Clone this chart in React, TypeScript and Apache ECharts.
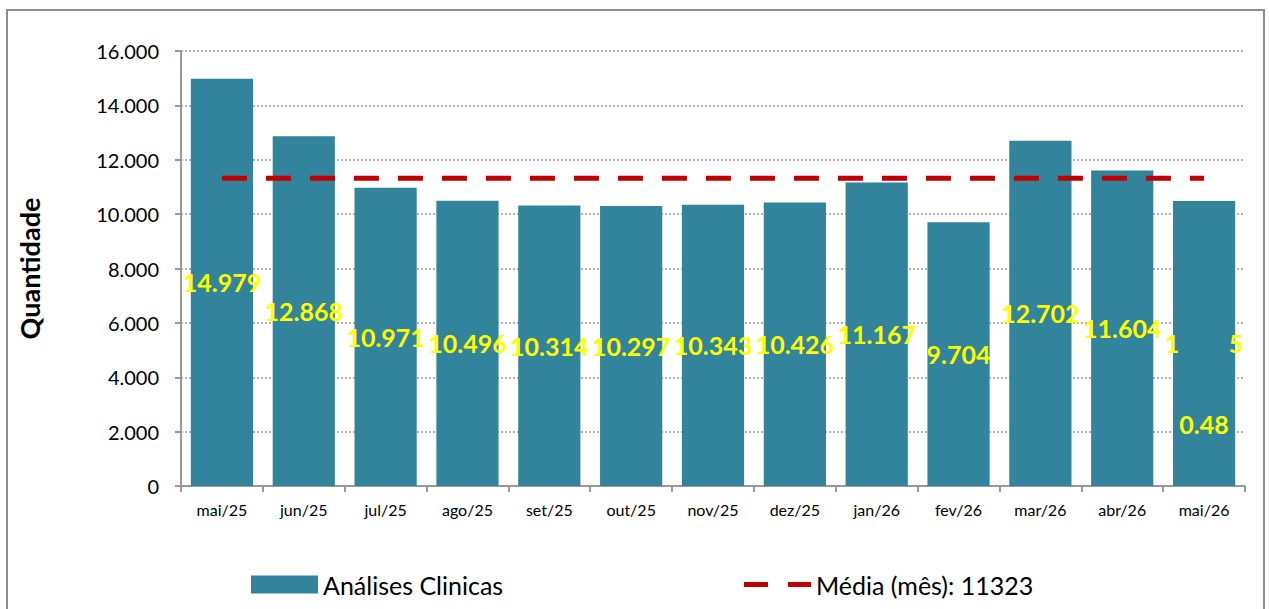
import React, { useEffect, useRef } from "react";
import * as echarts from "echarts";

const categories = ["mai/25", "jun/25", "jul/25", "ago/25", "set/25", "out/25", "nov/25", "dez/25", "jan/26", "fev/26", "mar/26", "abr/26", "mai/26"];
const analisesValues = [14979, 12868, 10971, 10496, 10314, 10297, 10343, 10426, 11167, 9704, 12702, 11604, 10485];
const mediaValue = 11323;
const mediaValues = categories.map(() => mediaValue);
const strayLabelValue = 2280;
const strayLabelText = "0.48";

const FONT = "Lato, 'Open Sans', sans-serif";

function fmt(v: number): string {
  const s = Math.round(v).toString();
  return s.replace(/\B(?=(\d{3})+(?!\d))/g, ".");
}

export default function App() {
  const ref = useRef<HTMLDivElement>(null);
  useEffect(() => {
    if (!ref.current) return;
    const chart = echarts.init(ref.current, undefined, { renderer: "svg" });
    const last = categories.length - 1;
    chart.setOption({
      animation: false,
      backgroundColor: "#ffffff",
      textStyle: { fontFamily: FONT },
      graphic: [
        {
          type: "rect",
          shape: { x: 7, y: 10, width: 1257, height: 620 },
          style: { fill: "none", stroke: "#8c8c8c", lineWidth: 2 },
          silent: true,
        },
      ],
      grid: { left: 181, right: 24, top: 51, bottom: 123 },
      legend: [
        {
          data: ["Análises Clinicas"],
          left: 246,
          top: 567,
          itemWidth: 67,
          itemHeight: 18,
          itemGap: 8,
          icon: "rect",
          textStyle: { fontSize: 25, color: "#000", fontFamily: FONT },
        },
        {
          data: [
            {
              name: "Média (mês): 11323",
              icon: "path://M0,0H24V5H0Z M44,0H67V5H44Z",
            },
          ],
          left: 739,
          top: 567,
          itemWidth: 67,
          itemHeight: 5,
          itemStyle: { color: "#C00000", borderWidth: 0 },
          textStyle: { fontSize: 25, color: "#000", fontFamily: FONT },
        },
      ],
      xAxis: {
        type: "category",
        data: categories,
        axisLine: { lineStyle: { color: "#999", width: 2 } },
        axisTick: { show: true, alignWithLabel: false, length: 6, lineStyle: { color: "#999", width: 2 } },
        axisLabel: { fontSize: 16, color: "#000", margin: 15, fontFamily: FONT },
      },
      yAxis: {
        type: "value",
        min: 0,
        max: 16000,
        interval: 2000,
        name: "Quantidade",
        nameLocation: "middle",
        nameGap: 138,
        nameTextStyle: { fontSize: 27, fontWeight: "bold", color: "#000", fontFamily: FONT },
        axisLine: { show: true, lineStyle: { color: "#999", width: 2 } },
        axisTick: { show: true, length: 6, lineStyle: { color: "#999", width: 2 } },
        axisLabel: { fontSize: 20, color: "#000", margin: 22, formatter: (v: number) => fmt(v), fontFamily: FONT },
        splitLine: { show: true, lineStyle: { color: "#999", type: [2, 2], width: 1.5 } },
      },
      series: [
        {
          name: "Análises Clinicas",
          type: "bar",
          data: analisesValues,
          barCategoryGap: "24%",
          itemStyle: { color: "#31849B" },
          label: {
            show: true,
            position: "inside",
            color: "#FFFF00",
            fontWeight: "bold",
            fontSize: 25,
            fontFamily: FONT,
            formatter: (p: any) => {
              if (p.dataIndex === last) {
                const s = fmt(p.value);
                return "{a|" + s.slice(0, 1) + "}{h|" + s.slice(1, -1) + "}{a|" + s.slice(-1) + "}";
              }
              return fmt(p.value);
            },
            rich: {
              a: { color: "#FFFF00", fontWeight: "bold", fontSize: 25, fontFamily: FONT },
              h: { color: "rgba(0,0,0,0)", fontWeight: "bold", fontSize: 25, fontFamily: FONT },
            },
          },
          markPoint: {
            symbol: "circle",
            symbolSize: 1,
            itemStyle: { color: "rgba(0,0,0,0)" },
            label: {
              show: true,
              position: "inside",
              color: "#FFFF00",
              fontWeight: "bold",
              fontSize: 25,
              fontFamily: FONT,
              formatter: () => strayLabelText,
            },
            data: [{ coord: [last, strayLabelValue] }],
          },
        },
        {
          name: "Média (mês): 11323",
          type: "line",
          data: mediaValues,
          symbol: "none",
          showSymbol: false,
          lineStyle: { color: "#C00000", width: 5, type: [25, 19] },
          itemStyle: { color: "#C00000" },
          z: 5,
        },
      ],
    });
    return () => chart.dispose();
  }, []);
  return <div ref={ref} style={{ position: "fixed", left: 0, top: 0, width: 1269, height: 609 }} />;
}
